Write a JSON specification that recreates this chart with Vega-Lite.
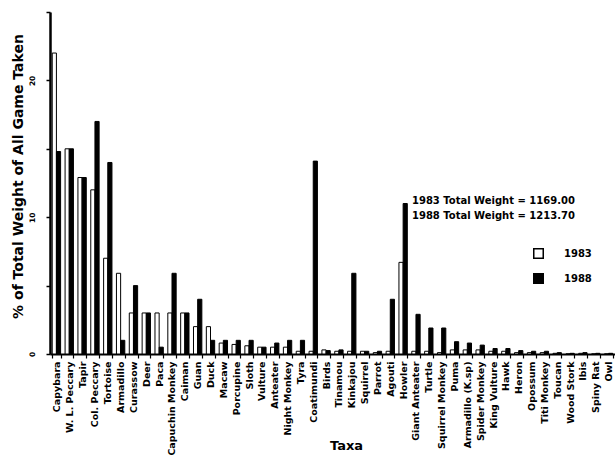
{
  "$schema": "https://vega.github.io/schema/vega-lite/v6.json",
  "width": 565,
  "height": 342,
  "autosize": {"type": "none"},
  "padding": {"left": 50, "top": 12, "right": 0, "bottom": 104},
  "background": "white",
  "config": {
    "view": {"stroke": null},
    "font": "DejaVu Sans",
    "axis": {"grid": false, "domainColor": "black", "tickColor": "black", "labelColor": "black", "titleColor": "black", "labelFontWeight": "bold", "titleFontWeight": "bold"}
  },
  "layer": [
    {
      "data": {"values": [
        {"taxon": "Capybara", "year": "1983", "pct": 22.0}, {"taxon": "Capybara", "year": "1988", "pct": 14.8},
        {"taxon": "W. L. Peccary", "year": "1983", "pct": 15.0}, {"taxon": "W. L. Peccary", "year": "1988", "pct": 15.0},
        {"taxon": "Tapir", "year": "1983", "pct": 12.9}, {"taxon": "Tapir", "year": "1988", "pct": 12.9},
        {"taxon": "Col. Peccary", "year": "1983", "pct": 12.0}, {"taxon": "Col. Peccary", "year": "1988", "pct": 17.0},
        {"taxon": "Tortoise", "year": "1983", "pct": 7.0}, {"taxon": "Tortoise", "year": "1988", "pct": 14.0},
        {"taxon": "Armadillo", "year": "1983", "pct": 5.9}, {"taxon": "Armadillo", "year": "1988", "pct": 1.0},
        {"taxon": "Curassow", "year": "1983", "pct": 3.0}, {"taxon": "Curassow", "year": "1988", "pct": 5.0},
        {"taxon": "Deer", "year": "1983", "pct": 3.0}, {"taxon": "Deer", "year": "1988", "pct": 3.0},
        {"taxon": "Paca", "year": "1983", "pct": 3.0}, {"taxon": "Paca", "year": "1988", "pct": 0.5},
        {"taxon": "Capuchin Monkey", "year": "1983", "pct": 3.0}, {"taxon": "Capuchin Monkey", "year": "1988", "pct": 5.9},
        {"taxon": "Caiman", "year": "1983", "pct": 3.0}, {"taxon": "Caiman", "year": "1988", "pct": 3.0},
        {"taxon": "Guan", "year": "1983", "pct": 2.0}, {"taxon": "Guan", "year": "1988", "pct": 4.0},
        {"taxon": "Duck", "year": "1983", "pct": 2.0}, {"taxon": "Duck", "year": "1988", "pct": 1.0},
        {"taxon": "Macaw", "year": "1983", "pct": 0.8}, {"taxon": "Macaw", "year": "1988", "pct": 1.0},
        {"taxon": "Porcupine", "year": "1983", "pct": 0.7}, {"taxon": "Porcupine", "year": "1988", "pct": 1.0},
        {"taxon": "Sloth", "year": "1983", "pct": 0.6}, {"taxon": "Sloth", "year": "1988", "pct": 1.0},
        {"taxon": "Vulture", "year": "1983", "pct": 0.5}, {"taxon": "Vulture", "year": "1988", "pct": 0.5},
        {"taxon": "Anteater", "year": "1983", "pct": 0.5}, {"taxon": "Anteater", "year": "1988", "pct": 0.8},
        {"taxon": "Night Monkey", "year": "1983", "pct": 0.5}, {"taxon": "Night Monkey", "year": "1988", "pct": 1.0},
        {"taxon": "Tyra", "year": "1983", "pct": 0.2}, {"taxon": "Tyra", "year": "1988", "pct": 1.0},
        {"taxon": "Coatimundi", "year": "1983", "pct": 0.2}, {"taxon": "Coatimundi", "year": "1988", "pct": 14.1},
        {"taxon": "Birds", "year": "1983", "pct": 0.3}, {"taxon": "Birds", "year": "1988", "pct": 0.25},
        {"taxon": "Tinamou", "year": "1983", "pct": 0.2}, {"taxon": "Tinamou", "year": "1988", "pct": 0.3},
        {"taxon": "Kinkajou", "year": "1983", "pct": 0.2}, {"taxon": "Kinkajou", "year": "1988", "pct": 5.9},
        {"taxon": "Squirrel", "year": "1983", "pct": 0.2}, {"taxon": "Squirrel", "year": "1988", "pct": 0.2},
        {"taxon": "Parrot", "year": "1983", "pct": 0.1}, {"taxon": "Parrot", "year": "1988", "pct": 0.2},
        {"taxon": "Agouti", "year": "1983", "pct": 0.2}, {"taxon": "Agouti", "year": "1988", "pct": 4.0},
        {"taxon": "Howler", "year": "1983", "pct": 6.7}, {"taxon": "Howler", "year": "1988", "pct": 11.0},
        {"taxon": "Giant Anteater", "year": "1983", "pct": 0.2}, {"taxon": "Giant Anteater", "year": "1988", "pct": 2.9},
        {"taxon": "Turtle", "year": "1983", "pct": 0.2}, {"taxon": "Turtle", "year": "1988", "pct": 1.9},
        {"taxon": "Squirrel Monkey", "year": "1983", "pct": 0.1}, {"taxon": "Squirrel Monkey", "year": "1988", "pct": 1.9},
        {"taxon": "Puma", "year": "1983", "pct": 0.3}, {"taxon": "Puma", "year": "1988", "pct": 0.9},
        {"taxon": "Armadillo (K.sp)", "year": "1983", "pct": 0.3}, {"taxon": "Armadillo (K.sp)", "year": "1988", "pct": 0.8},
        {"taxon": "Spider Monkey", "year": "1983", "pct": 0.3}, {"taxon": "Spider Monkey", "year": "1988", "pct": 0.65},
        {"taxon": "King Vulture", "year": "1983", "pct": 0.2}, {"taxon": "King Vulture", "year": "1988", "pct": 0.4},
        {"taxon": "Hawk", "year": "1983", "pct": 0.2}, {"taxon": "Hawk", "year": "1988", "pct": 0.4},
        {"taxon": "Heron", "year": "1983", "pct": 0.1}, {"taxon": "Heron", "year": "1988", "pct": 0.25},
        {"taxon": "Opossum", "year": "1983", "pct": 0.1}, {"taxon": "Opossum", "year": "1988", "pct": 0.2},
        {"taxon": "Titi Monkey", "year": "1983", "pct": 0.1}, {"taxon": "Titi Monkey", "year": "1988", "pct": 0.2},
        {"taxon": "Toucan", "year": "1983", "pct": 0.05}, {"taxon": "Toucan", "year": "1988", "pct": 0.1},
        {"taxon": "Wood Stork", "year": "1983", "pct": 0.0}, {"taxon": "Wood Stork", "year": "1988", "pct": 0.05},
        {"taxon": "Ibis", "year": "1983", "pct": 0.05}, {"taxon": "Ibis", "year": "1988", "pct": 0.1},
        {"taxon": "Spiny Rat", "year": "1983", "pct": 0.0}, {"taxon": "Spiny Rat", "year": "1988", "pct": 0.05},
        {"taxon": "Owl", "year": "1983", "pct": 0.0}, {"taxon": "Owl", "year": "1988", "pct": 0.05}
      ]},
      "mark": {"type": "bar", "stroke": "black", "strokeWidth": 1},
      "encoding": {
        "x": {
          "field": "taxon", "type": "nominal",
          "scale": {"paddingInner": 0.35, "paddingOuter": 0.175, "domain": ["Capybara", "W. L. Peccary", "Tapir", "Col. Peccary", "Tortoise", "Armadillo", "Curassow", "Deer", "Paca", "Capuchin Monkey", "Caiman", "Guan", "Duck", "Macaw", "Porcupine", "Sloth", "Vulture", "Anteater", "Night Monkey", "Tyra", "Coatimundi", "Birds", "Tinamou", "Kinkajou", "Squirrel", "Parrot", "Agouti", "Howler", "Giant Anteater", "Turtle", "Squirrel Monkey", "Puma", "Armadillo (K.sp)", "Spider Monkey", "King Vulture", "Hawk", "Heron", "Opossum", "Titi Monkey", "Toucan", "Wood Stork", "Ibis", "Spiny Rat", "Owl"]},
          "axis": {"labelAngle": -90, "labelFontSize": 9.5, "labelPadding": 3, "tickSize": 4, "tickBand": "extent", "domainWidth": 2, "tickWidth": 1.2, "title": "Taxa", "titleFontSize": 13, "titleX": 296, "titleY": 91, "titleBaseline": "middle", "titleAlign": "center"}
        },
        "xOffset": {"field": "year", "type": "nominal", "sort": ["1983", "1988"]},
        "y": {
          "field": "pct", "type": "quantitative",
          "scale": {"domain": [0, 25], "nice": false},
          "axis": {"values": [0, 5, 10, 15, 20, 25], "labelExpr": "datum.value % 10 == 0 ? datum.label : ''", "tickSize": 4, "domainWidth": 2.5, "tickWidth": 1.5, "labelAngle": -90, "labelAlign": "center", "labelBaseline": "bottom", "labelFontSize": 7.5, "labelPadding": 10, "title": "% of Total Weight of All Game Taken", "titleFontSize": 14, "titleAngle": -90, "titleX": -32, "titleY": 164, "titleAlign": "center", "titleBaseline": "middle"}
        },
        "fill": {
          "field": "year", "type": "nominal",
          "scale": {"domain": ["1983", "1988"], "range": ["white", "black"]},
          "legend": {"orient": "none", "legendX": 483, "legendY": 236, "title": null, "symbolType": "square", "symbolSize": 90, "symbolStrokeColor": "black", "symbolStrokeWidth": 1.5, "labelFontSize": 10, "labelFontWeight": "bold", "labelOffset": 20, "rowPadding": 8, "labelColor": "black"}
        }
      }
    },
    {
      "data": {"values": [
        {"label": "1983 Total Weight = 1169.00", "v": 11.18},
        {"label": "1988 Total Weight = 1213.70", "v": 10.1}
      ]},
      "mark": {"type": "text", "align": "left", "baseline": "middle", "fontWeight": "bold", "fontSize": 10, "dx": -4, "color": "black"},
      "encoding": {
        "x": {"datum": "Giant Anteater", "type": "nominal"},
        "y": {"field": "v", "type": "quantitative"},
        "text": {"field": "label"}
      }
    }
  ]
}
